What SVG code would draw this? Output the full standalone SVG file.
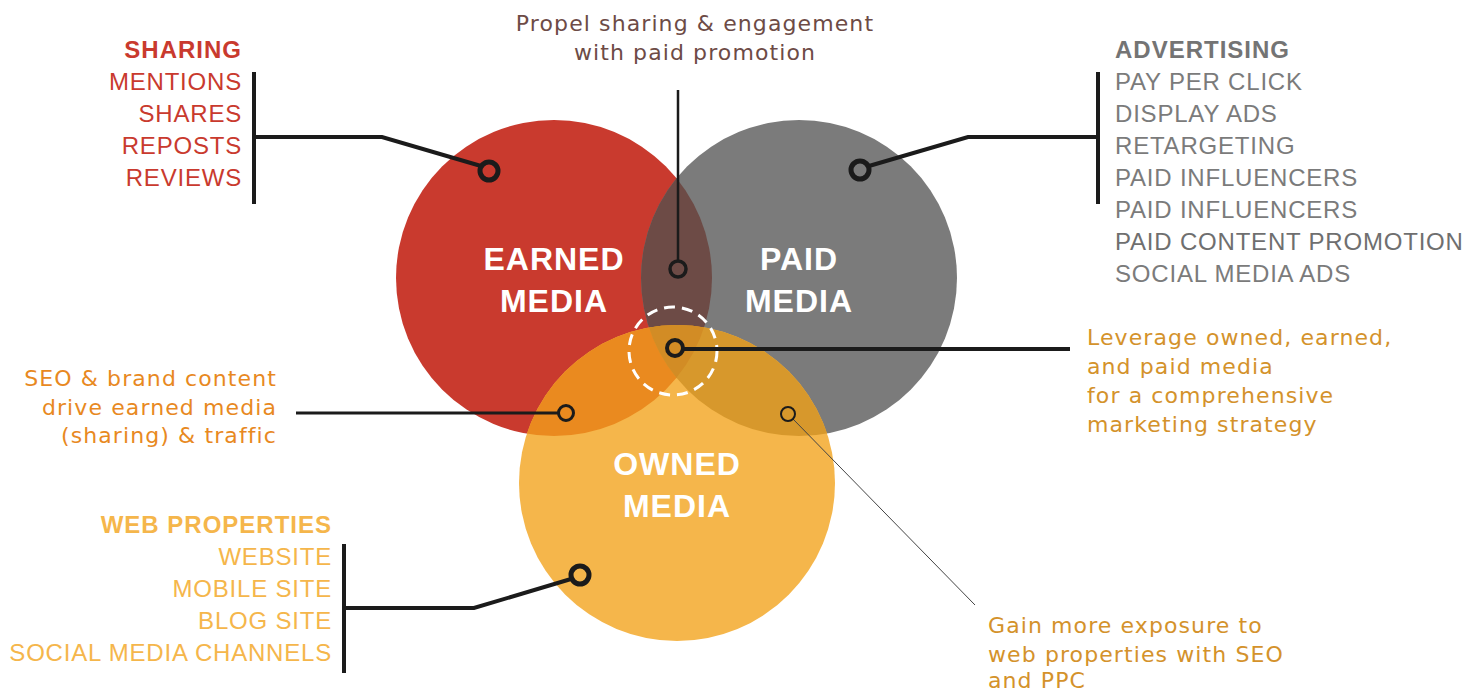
<svg xmlns="http://www.w3.org/2000/svg" width="1483" height="693" viewBox="0 0 1483 693">
  <style>
    text { font-family: "Liberation Sans", Arial, sans-serif; }
    .list { font-size: 24px; letter-spacing: 0.8px; }
    .head { font-size: 24px; font-weight: bold; letter-spacing: 1px; }
    .note { font-family: "DejaVu Sans", "Liberation Sans", sans-serif; font-size: 22px; letter-spacing: 1.1px; }
    .big { font-size: 32px; font-weight: bold; fill: #ffffff; text-anchor: middle; letter-spacing: 1px; }
    .bracket { stroke: #1b1b1b; stroke-width: 4; fill: none; }
    .ring { fill: none; stroke: #1b1b1b; }
  </style>
  <defs>
    <clipPath id="clipEarned"><circle cx="554" cy="278" r="158"/></clipPath>
    <clipPath id="clipPaid"><circle cx="799" cy="278" r="158"/></clipPath>
    <clipPath id="clipOwned"><circle cx="677" cy="483" r="158"/></clipPath>
  </defs>

  <rect width="1483" height="693" fill="#ffffff"/>

  <!-- Venn circles -->
  <g id="earned-circle">
    <circle cx="554" cy="278" r="158" fill="#C93A2E"/>
  </g>
  <g id="paid-circle">
    <circle cx="799" cy="278" r="158" fill="#7B7B7B"/>
  </g>
  <g id="owned-circle">
    <circle cx="677" cy="483" r="158" fill="#F5B64B"/>
  </g>

  <!-- Overlap regions -->
  <g id="overlaps">
    <g clip-path="url(#clipEarned)">
      <circle cx="799" cy="278" r="158" fill="#6D4B46"/>
      <circle cx="677" cy="483" r="158" fill="#EA8A1F"/>
    </g>
    <g clip-path="url(#clipPaid)">
      <circle cx="677" cy="483" r="158" fill="#D7982C"/>
    </g>
    <g clip-path="url(#clipEarned)">
      <g clip-path="url(#clipPaid)">
        <circle cx="677" cy="483" r="158" fill="#D28C25"/>
      </g>
    </g>
  </g>

  <!-- Circle titles -->
  <g id="earned-label">
    <text class="big" x="554" y="270">EARNED</text>
    <text class="big" x="554" y="312">MEDIA</text>
  </g>
  <g id="paid-label">
    <text class="big" x="799" y="270">PAID</text>
    <text class="big" x="799" y="312">MEDIA</text>
  </g>
  <g id="owned-label">
    <text class="big" x="677" y="475">OWNED</text>
    <text class="big" x="677" y="517">MEDIA</text>
  </g>

  <!-- Dashed highlight around the shared centre -->
  <g id="center-highlight">
    <circle cx="673" cy="351" r="44" fill="none" stroke="#ffffff" stroke-width="3" stroke-dasharray="11 7"/>
  </g>

  <!-- Connectors -->
  <g id="connectors">
    <!-- earned list bracket -->
    <line class="bracket" x1="254" y1="72" x2="254" y2="204"/>
    <polyline class="bracket" points="254,137 382,137 481,166"/>
    <!-- paid list bracket -->
    <line class="bracket" x1="1098" y1="72" x2="1098" y2="204"/>
    <polyline class="bracket" points="1098,137 968,137 869,166"/>
    <!-- owned list bracket -->
    <line class="bracket" x1="344" y1="544" x2="344" y2="673"/>
    <polyline class="bracket" points="344,608 474,608 571,579"/>
    <!-- earned/paid overlap -->
    <line x1="678" y1="90" x2="678" y2="261" stroke="#1b1b1b" stroke-width="2.5"/>
    <!-- centre -->
    <line x1="684" y1="349" x2="1070" y2="349" stroke="#1b1b1b" stroke-width="4"/>
    <!-- earned/owned overlap -->
    <line x1="296" y1="413" x2="559" y2="413" stroke="#1b1b1b" stroke-width="3"/>
    <!-- paid/owned overlap -->
    <line x1="793" y1="419" x2="975" y2="605" stroke="#444444" stroke-width="1"/>
  </g>

  <!-- Marker rings -->
  <g id="markers">
    <circle class="ring" cx="489" cy="171" r="9" stroke-width="5"/>
    <circle class="ring" cx="860" cy="170" r="9" stroke-width="5"/>
    <circle class="ring" cx="580" cy="575" r="9" stroke-width="5"/>
    <circle class="ring" cx="678" cy="269" r="8" stroke-width="3.5"/>
    <circle class="ring" cx="675" cy="348" r="8" stroke-width="4"/>
    <circle class="ring" cx="566" cy="413" r="7.5" stroke-width="3"/>
    <circle class="ring" cx="788" cy="414" r="7" stroke-width="2"/>
  </g>

  <!-- Earned media list -->
  <g id="sharing-list" fill="#C93A2E" text-anchor="end">
    <text class="head" x="242" y="58">SHARING</text>
    <text class="list" x="242" y="90">MENTIONS</text>
    <text class="list" x="242" y="122">SHARES</text>
    <text class="list" x="242" y="154">REPOSTS</text>
    <text class="list" x="242" y="186">REVIEWS</text>
  </g>

  <!-- Paid media list -->
  <g id="advertising-list" fill="#7B7B7B">
    <text class="head" x="1115" y="58" fill="#747474">ADVERTISING</text>
    <text class="list" x="1115" y="90">PAY PER CLICK</text>
    <text class="list" x="1115" y="122">DISPLAY ADS</text>
    <text class="list" x="1115" y="154">RETARGETING</text>
    <text class="list" x="1115" y="186">PAID INFLUENCERS</text>
    <text class="list" x="1115" y="218">PAID INFLUENCERS</text>
    <text class="list" x="1115" y="250" fill="#6F6F6F">PAID CONTENT PROMOTION</text>
    <text class="list" x="1115" y="282">SOCIAL MEDIA ADS</text>
  </g>

  <!-- Owned media list -->
  <g id="web-list" fill="#F5B64B" text-anchor="end">
    <text class="head" x="332" y="533">WEB PROPERTIES</text>
    <text class="list" x="332" y="565">WEBSITE</text>
    <text class="list" x="332" y="597">MOBILE SITE</text>
    <text class="list" x="332" y="629">BLOG SITE</text>
    <text class="list" x="332" y="661">SOCIAL MEDIA CHANNELS</text>
  </g>

  <!-- Overlap notes -->
  <g id="note-earned-paid" fill="#6D4B46" text-anchor="middle">
    <text class="note" x="695" y="31">Propel sharing &amp; engagement</text>
    <text class="note" x="695" y="60">with paid promotion</text>
  </g>
  <g id="note-earned-owned" fill="#E8891F" text-anchor="end">
    <text class="note" x="277" y="386">SEO &amp; brand content</text>
    <text class="note" x="277" y="415">drive earned media</text>
    <text class="note" x="277" y="443">(sharing) &amp; traffic</text>
  </g>
  <g id="note-center" fill="#D4922B">
    <text class="note" x="1087" y="345">Leverage owned, earned,</text>
    <text class="note" x="1087" y="374">and paid media</text>
    <text class="note" x="1087" y="403">for a comprehensive</text>
    <text class="note" x="1087" y="432">marketing strategy</text>
  </g>
  <g id="note-paid-owned" fill="#D4922B">
    <text class="note" x="988" y="633">Gain more exposure to</text>
    <text class="note" x="988" y="662">web properties with SEO</text>
    <text class="note" x="988" y="688">and PPC</text>
  </g>
</svg>
